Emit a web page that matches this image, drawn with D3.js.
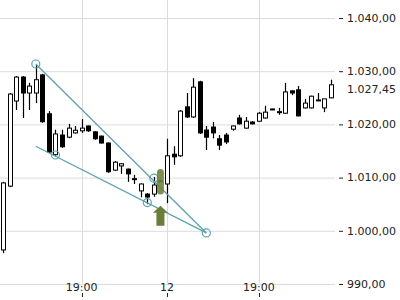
<!DOCTYPE html>
<html>
<head>
<meta charset="utf-8">
<script src="https://cdn.jsdelivr.net/npm/d3@7"></script>
<style>
  body { margin: 0; background: #fff; }
  svg { display: block; font-family: "DejaVu Sans", sans-serif; }
</style>
</head>
<body>
<div id="chart"></div>
<script>
// candles, 30 min each (open, high, low, close)
const opens  = [996.4, 1008.4, 1024.4, 1028.9, 1025.9, 1025.9, 1029.3, 1022.0, 1014.3, 1018.0,
                1017.6, 1018.4, 1018.8, 1019.7, 1018.6, 1017.8, 1016.5, 1011.4, 1012.2, 1011.6,
                1009.8, 1007.5, 1006.9, 1006.9, 1009.4, 1008.8, 1014.4, 1014.1, 1023.3, 1021.4,
                1028.0, 1018.95, 1019.5, 1017.3, 1018.0, 1019.1, 1021.2, 1019.3, 1020.45, 1020.6,
                1021.2, 1022.9, 1022.3, 1022.1, 1026.3, 1026.5, 1023.1, 1023.1, 1024.6, 1023.1, 1025.0];
const highs  = [1009.2, 1025.9, 1029.1, 1029.1, 1027.8, 1031.2, 1029.5, 1022.5, 1019.0, 1019.0,
                1020.1, 1019.7, 1021.0, 1019.8, 1018.7, 1017.9, 1016.6, 1013.1, 1012.7, 1011.7,
                1010.5, 1008.9, 1007.1, 1010.1, 1009.6, 1017.3, 1015.9, 1022.7, 1025.9, 1028.7,
                1028.2, 1019.7, 1020.45, 1018.0, 1018.4, 1019.8, 1021.8, 1021.4, 1020.6, 1022.3,
                1023.5, 1022.95, 1023.1, 1027.8, 1026.4, 1027.2, 1024.8, 1025.4, 1025.9, 1024.8, 1028.4];
const lows   = [995.8, 1008.2, 1022.7, 1021.2, 1022.7, 1024.0, 1020.3, 1014.6, 1014.1, 1015.6,
                1017.4, 1018.3, 1018.4, 1018.6, 1017.1, 1016.4, 1010.9, 1011.3, 1010.7, 1009.2,
                1008.8, 1006.3, 1005.0, 1006.4, 1009.2, 1005.2, 1012.4, 1013.9, 1021.2, 1021.2,
                1018.2, 1015.2, 1017.4, 1015.2, 1016.3, 1018.8, 1020.0, 1019.2, 1020.0, 1020.5,
                1021.1, 1022.85, 1021.8, 1022.0, 1025.5, 1021.5, 1023.0, 1023.0, 1024.5, 1022.3, 1024.9];
const closes = [1009.0, 1025.7, 1028.9, 1025.9, 1027.2, 1028.4, 1020.5, 1014.8, 1018.2, 1015.8,
                1019.3, 1018.9, 1019.3, 1018.8, 1017.3, 1016.5, 1011.1, 1012.9, 1012.6, 1010.7,
                1009.7, 1008.8, 1006.35, 1008.6, 1009.3, 1014.1, 1013.9, 1022.5, 1021.4, 1027.0,
                1018.4, 1017.6, 1018.4, 1016.1, 1016.7, 1019.7, 1020.1, 1020.6, 1020.1, 1022.1,
                1022.3, 1022.9, 1022.4, 1026.1, 1025.9, 1021.6, 1024.0, 1025.3, 1024.6, 1024.8, 1027.45];

const yTicks = [990, 1000, 1010, 1020, 1030, 1040];
const xTickIndex = [12, 25, 39];
const xTickLabels = ["19:00", "12", "19:00"];

// drawn trend lines [index, price] -> [index, price]
const trendLines = [
    [[5, 1031.35], [31, 999.6]],
    [[5, 1015.9], [31, 999.6]]
];
const trendPoints = [[5, 1031.35], [8, 1014.25], [22, 1005.3], [23, 1009.9], [31, 999.6]];

// buy signal
const signalIndex = 24;
const signalBar = [1006.8, 1011.6];
const signalArrowTip = 1004.7;

const W = 400, H = 300;
const plotRight = 335;

const data = opens.map((o, i) => ({i: i, o: o, h: highs[i], l: lows[i], c: closes[i]}));

const x = d3.scaleLinear().domain([0, data.length - 1]).range([3, 331]);
const y = d3.scaleLinear().domain([990, 1040]).range([284, 18]);

const de = d3.formatLocale({decimal: ",", thousands: ".", grouping: [3], currency: ["", "€"]});
const fmt = de.format(",.2f");

const svg = d3.select("#chart").append("svg")
    .attr("width", W)
    .attr("height", H);

// grid
svg.append("g").selectAll("line")
    .data(yTicks)
    .join("line")
    .attr("x1", 0).attr("x2", plotRight)
    .attr("y1", d => y(d) + 0.5).attr("y2", d => y(d) + 0.5)
    .attr("stroke", "#dcdcdc");

svg.append("g").selectAll("line")
    .data(xTickIndex)
    .join("line")
    .attr("x1", d => Math.round(x(d)) + 0.5).attr("x2", d => Math.round(x(d)) + 0.5)
    .attr("y1", 0).attr("y2", 283)
    .attr("stroke", "#dcdcdc");

// y axis on the right
const yAxis = svg.append("g");
yAxis.selectAll("line")
    .data(yTicks)
    .join("line")
    .attr("x1", 339).attr("x2", 343)
    .attr("y1", d => y(d) + 0.5).attr("y2", d => y(d) + 0.5)
    .attr("stroke", "#222");
yAxis.selectAll("text")
    .data(yTicks)
    .join("text")
    .attr("x", 347)
    .attr("y", d => y(d))
    .attr("dy", "0.35em")
    .attr("font-size", 11)
    .attr("fill", "#222")
    .text(d => fmt(d));

// last price label
const last = closes[closes.length - 1];
svg.append("text")
    .attr("x", 347)
    .attr("y", y(last) + 4)
    .attr("dy", "0.35em")
    .attr("font-size", 11)
    .attr("fill", "#222")
    .text(fmt(last));

// x axis labels
const xAxis = svg.append("g");
xAxis.selectAll("text")
    .data(xTickIndex)
    .join("text")
    .attr("x", d => x(d))
    .attr("y", 291)
    .attr("text-anchor", "middle")
    .attr("font-size", 11)
    .attr("fill", "#222")
    .text((d, i) => xTickLabels[i]);
xAxis.selectAll("line")
    .data(xTickIndex)
    .join("line")
    .attr("x1", d => Math.round(x(d)) + 0.5).attr("x2", d => Math.round(x(d)) + 0.5)
    .attr("y1", 293).attr("y2", 297)
    .attr("stroke", "#222");

// candles
const candles = svg.append("g").selectAll("g")
    .data(data)
    .join("g");

candles.append("line")
    .attr("x1", d => Math.round(x(d.i)) + 0.5).attr("x2", d => Math.round(x(d.i)) + 0.5)
    .attr("y1", d => y(d.h)).attr("y2", d => y(d.l))
    .attr("stroke", "#000")
    .attr("stroke-width", 1.2);

candles.append("rect")
    .attr("x", d => Math.round(x(d.i)) - 1.5)
    .attr("y", d => y(Math.max(d.o, d.c)))
    .attr("width", 4)
    .attr("height", d => Math.max(1, Math.abs(y(d.o) - y(d.c))))
    .attr("fill", d => d.c >= d.o ? "#fff" : "#000")
    .attr("stroke", "#000")
    .attr("stroke-width", 1);

// trend lines
const teal = "#5ea3ac";
svg.append("g").selectAll("line")
    .data(trendLines)
    .join("line")
    .attr("x1", d => x(d[0][0])).attr("y1", d => y(d[0][1]))
    .attr("x2", d => x(d[1][0])).attr("y2", d => y(d[1][1]))
    .attr("stroke", teal)
    .attr("stroke-width", 1.3);

svg.append("g").selectAll("circle")
    .data(trendPoints)
    .join("circle")
    .attr("cx", d => x(d[0])).attr("cy", d => y(d[1]))
    .attr("r", 4)
    .attr("fill", "none")
    .attr("stroke", teal)
    .attr("stroke-width", 1.2);

// signal markers
const sx = x(signalIndex);
svg.append("rect")
    .attr("x", sx - 3.5)
    .attr("y", y(signalBar[1]))
    .attr("width", 7)
    .attr("height", y(signalBar[0]) - y(signalBar[1]))
    .attr("rx", 3.5)
    .attr("fill", "#6f823e")
    .attr("opacity", 0.9);

const tipY = y(signalArrowTip);
svg.append("path")
    .attr("d", `M${sx},${tipY} L${sx + 7.5},${tipY + 7} L${sx + 4},${tipY + 7} L${sx + 4},${tipY + 20}
                L${sx - 4},${tipY + 20} L${sx - 4},${tipY + 7} L${sx - 7.5},${tipY + 7} Z`)
    .attr("fill", "#6b7d38");
</script>
</body>
</html>
